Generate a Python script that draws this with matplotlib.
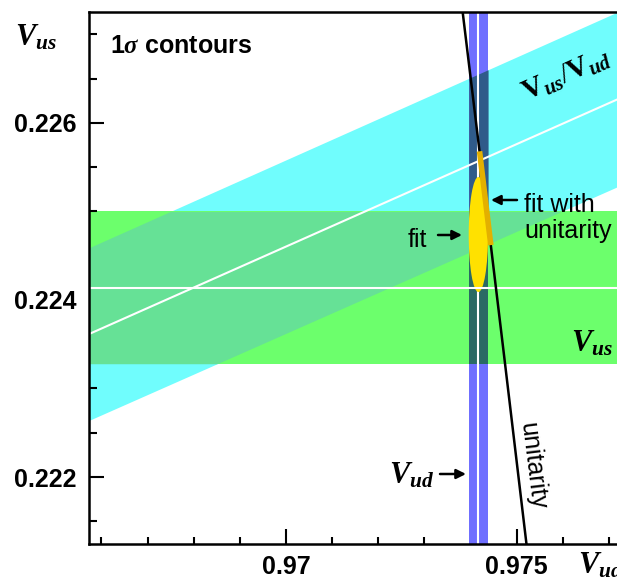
import matplotlib
matplotlib.use("Agg")
import matplotlib.pyplot as plt
import numpy as np
from matplotlib.patches import Ellipse
from matplotlib.ticker import FixedLocator, MultipleLocator

plt.rcParams['font.family'] = ['Liberation Sans', 'DejaVu Sans']
plt.rcParams['mathtext.fontset'] = 'custom'
plt.rcParams['mathtext.rm'] = 'Liberation Serif'
plt.rcParams['mathtext.it'] = 'Liberation Serif:italic'
plt.rcParams['mathtext.bf'] = 'Liberation Serif:bold'
plt.rcParams['mathtext.bfit'] = 'Liberation Serif:bold:italic'

# 1 sigma measurements
vud_val, vud_err = 0.97417, 0.00021
vus_val, vus_err = 0.22414, 0.00086
ratio_val, ratio_err = 0.23155, 0.00101
vub = 0.00365
fit_vud, fit_vud_err = 0.97417, 0.00021
fit_vus, fit_vus_err = 0.22474, 0.00065
unit_fit_vus = [0.22462, 0.22568]

# axis ranges and ticks
x_lim = (0.965737, 0.977174)
y_lim = (0.221243, 0.227254)
x_major = [0.97, 0.975]
x_major_labels = ['0.97', '0.975']
y_major = [0.222, 0.224, 0.226]
y_major_labels = ['0.222', '0.224', '0.226']

# colours
cyan = '#70fdfd'
green = '#6cff6c'
cyan_green = '#66e196'
blue = '#6f6fff'
blue_cyan = '#2f5b8a'
blue_green = '#2a6a64'
yellow = '#ffe100'
gold = '#e3b000'

W, H = 617, 584


def fpos(x, y):
    # pixel position (from top left) -> figure fraction
    return (x / W, 1 - y / H)


fig = plt.figure(figsize=(W / 100, H / 100), dpi=100)
ax = fig.add_axes([89.3 / W, 40 / H, (W - 89.3) / W, 532 / H])
ax.set_xlim(x_lim)
ax.set_ylim(y_lim)

xs = np.linspace(x_lim[0], x_lim[1], 300)
r_lo = (ratio_val - ratio_err) * xs
r_hi = (ratio_val + ratio_err) * xs
g_lo = vus_val - vus_err
g_hi = vus_val + vus_err

# Vus/Vud band and Vus band
ax.fill_between(xs, r_lo, r_hi, color=cyan, lw=0, zorder=1)
ax.axhspan(g_lo, g_hi, color=green, lw=0, zorder=1)
lo = np.maximum(r_lo, g_lo)
hi = np.minimum(r_hi, g_hi)
ax.fill_between(xs, lo, np.maximum(hi, lo), color=cyan_green, lw=0, zorder=2)

# Vud band with its overlaps
xb = np.array([vud_val - vud_err, vud_val + vud_err])
ax.axvspan(xb[0], xb[1], color=blue, lw=0, zorder=3)
ax.fill_between(xb, (ratio_val - ratio_err) * xb, (ratio_val + ratio_err) * xb,
                color=blue_cyan, lw=0, zorder=3)
ax.fill_between(xb, g_lo, g_hi, color=blue_green, lw=0, zorder=3)
ax.axvline(vud_val, color='white', lw=1.5, zorder=3.5)

# fit ellipse
ax.add_patch(Ellipse((fit_vud, fit_vus), 2 * fit_vud_err, 2 * fit_vus_err,
                     color=yellow, lw=0, zorder=4))

# central values
ax.axhline(vus_val, color='white', lw=1.5, zorder=6)
ax.plot(xs, ratio_val * xs, color='white', lw=1.5, zorder=6)

# unitarity line
ys = np.linspace(y_lim[0], y_lim[1], 200)
ax.plot(np.sqrt(1 - ys**2 - vub**2), ys, color='black', lw=1.8, zorder=7)

# fit with unitarity (drawn over the line)
vs = np.linspace(unit_fit_vus[0], unit_fit_vus[1], 30)
ax.plot(np.sqrt(1 - vs**2 - vub**2), vs, color=gold, lw=4,
        solid_capstyle='butt', zorder=8)

# axes styling
ax.xaxis.set_major_locator(FixedLocator(x_major))
ax.xaxis.set_minor_locator(MultipleLocator(0.001))
ax.yaxis.set_major_locator(FixedLocator(y_major))
ax.yaxis.set_minor_locator(MultipleLocator(0.0005))
ax.set_xticklabels(x_major_labels, fontsize=18, fontweight='bold')
ax.set_yticklabels(y_major_labels, fontsize=18, fontweight='bold')
ax.tick_params(which='both', direction='in', width=1.5, top=False, right=False)
ax.tick_params(which='major', length=10.8)
ax.tick_params(which='minor', length=5.4)
ax.tick_params(axis='x', pad=8)
ax.tick_params(axis='y', pad=9.4)
ax.spines['right'].set_visible(False)
for s in ['left', 'bottom', 'top']:
    ax.spines[s].set_linewidth(1.8)
    ax.spines[s].set_zorder(10)

# labels
vsize = 22
fig.text(*fpos(15, 46), r'$\mathbfit{V_{us}}$', fontsize=vsize, va='baseline')
fig.text(*fpos(578, 573), r'$\mathbfit{V_{ud}}$', fontsize=vsize, va='baseline')
fig.text(*fpos(110, 53), r'1$\mathbfit{\sigma}$ contours', fontsize=18,
         fontweight='bold', va='baseline')
fig.text(*fpos(566, 75), r'$\mathbf{V}_{\mathbfit{us}}/\mathbf{V}_{\mathbfit{ud}}$',
         fontsize=21, rotation=24, ha='center', va='center', rotation_mode='anchor')
fig.text(*fpos(571, 351), r'$\mathbfit{V_{us}}$', fontsize=vsize, va='baseline')
fig.text(*fpos(389, 484), r'$\mathbfit{V_{ud}}$', fontsize=vsize, va='baseline')
fig.text(*fpos(524, 212), 'fit with', fontsize=18, va='baseline')
fig.text(*fpos(524, 238), 'unitarity', fontsize=18, va='baseline')
fig.text(*fpos(408, 247), 'fit', fontsize=18, va='baseline')
fig.text(*fpos(533, 466), 'unitarity', fontsize=18, rotation=-83,
         ha='center', va='center', rotation_mode='anchor')

# arrows
arrow = dict(arrowstyle='-|>', color='black', lw=1.8, mutation_scale=14,
             shrinkA=0, shrinkB=0)
for tail, tip in [((438, 235), (462, 235)),
                  ((517, 200), (491, 200)),
                  ((440, 474), (466, 474))]:
    ax.annotate('', xy=fpos(*tip), xytext=fpos(*tail), xycoords='figure fraction',
                textcoords='figure fraction', arrowprops=arrow, annotation_clip=False,
                zorder=11)

fig.savefig('out.png', dpi=100)
